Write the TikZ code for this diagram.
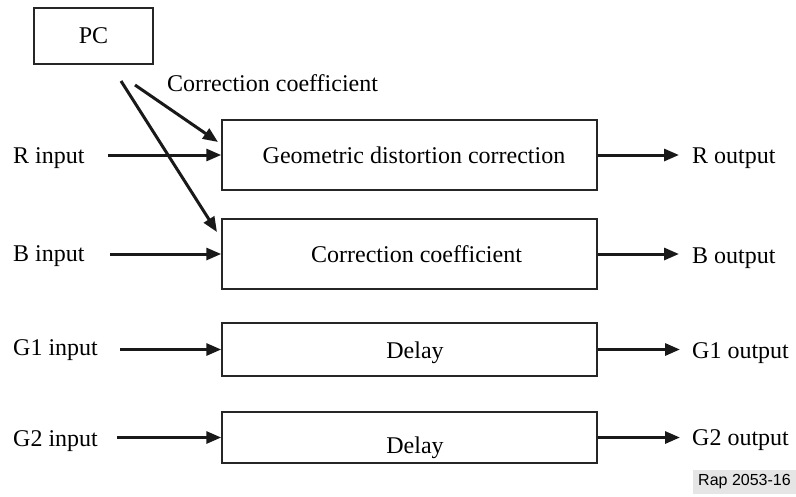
\documentclass[tikz,border=0pt]{standalone}
\usepackage{fontspec}
\setmainfont{Liberation Serif}
\setsansfont{Liberation Sans}
\usetikzlibrary{arrows.meta,calc}
\tikzset{
  blk/.style={draw=black!85, line width=1.5pt, rectangle, minimum width=375pt, inner sep=0pt},
  lbl/.style={inner sep=0pt, font=\fontsize{24}{28}\selectfont},
  arr/.style={draw=black!90, line width=3pt, -{Triangle[length=15pt,width=12pt]}},
}
\begin{document}
\begin{tikzpicture}[x=1pt,y=-1pt]
\useasboundingbox (0,0) rectangle (796,496);
% PC
\node[draw=black!85, line width=1.5pt, minimum width=119pt, minimum height=56pt, inner sep=0pt, font=\fontsize{24}{28}\selectfont] (pc) at (93.5,36) {PC};
\node[lbl, anchor=base west] (cc) at (167,91) {Correction coefficient};
% blocks
\node[blk, minimum height=70pt] (geo) at (409.5,155) {};
\node[lbl, anchor=base] (geot) at (414,163) {Geometric distortion correction};
\node[blk, minimum height=70pt] (cor) at (409.5,254) {};
\node[lbl, anchor=base] (cort) at (416.5,262) {Correction coefficient};
\node[blk, minimum height=53pt] (d1) at (409.5,349.5) {};
\node[lbl, anchor=base] (d1t) at (415,358) {Delay};
\node[blk, minimum height=51pt] (d2) at (409.5,437.5) {};
\node[lbl, anchor=base] (d2t) at (415,453) {Delay};
% input labels
\node[lbl, anchor=base west] (rin) at (13,163) {R input};
\node[lbl, anchor=base west] (bin) at (13,261) {B input};
\node[lbl, anchor=base west] (g1in) at (13,355) {G1 input};
\node[lbl, anchor=base west] (g2in) at (13,446) {G2 input};
% output labels
\node[lbl, anchor=base west] (rout) at (692,163) {R output};
\node[lbl, anchor=base west] (bout) at (692,263) {B output};
\node[lbl, anchor=base west] (g1out) at (692,358) {G1 output};
\node[lbl, anchor=base west] (g2out) at (692,445) {G2 output};
% arrow start/end coordinates
\coordinate (rs) at (108,155);
\coordinate (bs) at (110,254);
\coordinate (g1s) at (120,349.5);
\coordinate (g2s) at (117,437.5);
\coordinate (ro) at (679,155);
\coordinate (bo) at (679,254);
\coordinate (g1o) at (680,349.5);
\coordinate (g2o) at (680,437.5);
\coordinate (pa) at (121,81);
\coordinate (pb) at (135,85);
\coordinate (ta) at (217,232);
\coordinate (tb) at (218,142);
% input arrows
\draw[arr] (rs) -- (geo.west);
\draw[arr] (bs) -- (cor.west);
\draw[arr] (g1s) -- (d1.west);
\draw[arr] (g2s) -- (d2.west);
% output arrows
\draw[arr] (geo.east) -- (ro);
\draw[arr] (cor.east) -- (bo);
\draw[arr] (d1.east) -- (g1o);
\draw[arr] (d2.east) -- (g2o);
% PC arrows
\draw[arr] (pa) -- (ta);
\draw[arr] (pb) -- (tb);
% reference tag
\node[fill=black!10, minimum width=103pt, minimum height=24pt, inner sep=0pt, font=\sffamily\fontsize{16}{18}\selectfont] (rap) at (744.5,482) {Rap 2053-16};
\end{tikzpicture}
\end{document}
